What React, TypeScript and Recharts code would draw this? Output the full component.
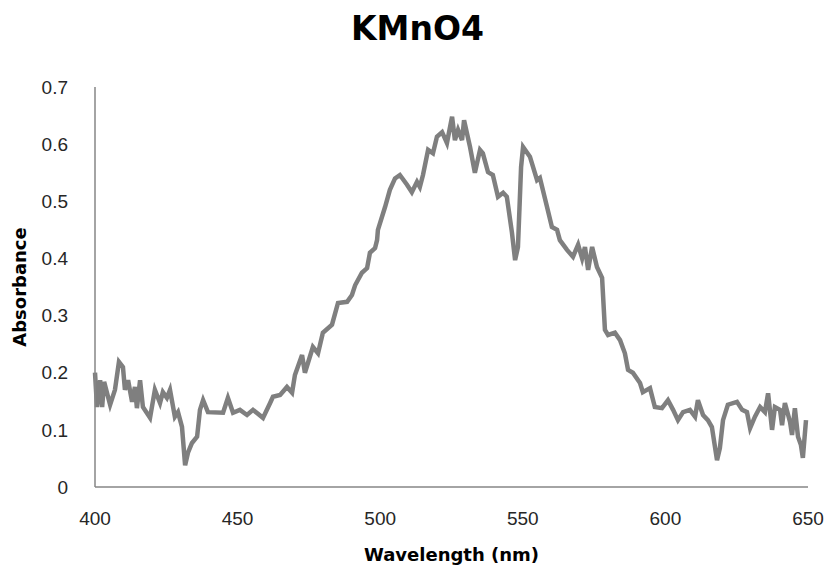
import { LineChart, Line, XAxis, YAxis, Label } from 'recharts';

const wavelengths = [
  400.0, 400.7, 401.8, 402.5, 403.2, 405.3, 407.0, 408.4, 409.8, 410.5, 411.6, 413.0, 414.0, 414.7, 415.8,
  416.8, 419.3, 421.0, 422.8, 423.8, 425.2, 426.3, 428.0, 429.1, 430.5, 431.6, 432.6, 434.0, 435.8, 436.8,
  437.9, 439.6, 444.9, 446.6, 448.4, 450.8, 453.3, 455.4, 458.9, 461.4, 462.4, 464.9, 467.3, 469.1, 470.1,
  472.6, 473.6, 476.4, 478.2, 479.9, 483.1, 485.2, 488.4, 490.1, 491.2, 493.6, 495.4, 496.4, 498.2, 498.9,
  499.2, 501.7, 503.4, 505.2, 506.9, 509.4, 511.1, 512.9, 513.9, 515.0, 516.8, 518.5, 519.9, 521.7, 523.4,
  525.2, 526.2, 527.3, 528.7, 529.4, 531.5, 533.2, 535.0, 536.0, 537.8, 539.5, 541.3, 543.1, 544.4, 546.2,
  547.3, 548.3, 549.4, 550.1, 552.5, 555.0, 556.0, 558.5, 560.2, 562.0, 563.0, 565.5, 567.6, 569.4, 570.8,
  571.8, 572.9, 574.3, 576.0, 577.8, 578.8, 579.9, 582.3, 584.1, 585.8, 586.9, 588.6, 591.1, 592.1, 594.6,
  596.3, 598.8, 600.9, 602.7, 604.4, 606.2, 608.6, 610.4, 611.4, 613.2, 614.9, 616.3, 618.1, 619.1, 620.2,
  621.9, 625.1, 626.9, 628.6, 629.7, 631.4, 633.2, 634.9, 636.0, 637.4, 638.4, 640.2, 640.9, 641.9, 643.7,
  644.4, 645.4, 646.5, 647.5, 648.2, 649.3,
];

const absorbance = [
  0.2, 0.14, 0.187, 0.14, 0.184, 0.144, 0.17, 0.219, 0.21, 0.17, 0.187, 0.149, 0.175, 0.138, 0.187,
  0.14, 0.121, 0.17, 0.147, 0.166, 0.156, 0.17, 0.123, 0.131, 0.105, 0.038, 0.06, 0.077, 0.088, 0.135,
  0.152, 0.131, 0.13, 0.156, 0.13, 0.135, 0.126, 0.135, 0.121, 0.147, 0.158, 0.161, 0.175, 0.165, 0.196,
  0.231, 0.2, 0.245, 0.234, 0.27, 0.284, 0.322, 0.324, 0.336, 0.353, 0.375, 0.383, 0.41, 0.418, 0.432,
  0.45, 0.49, 0.52, 0.54, 0.546, 0.529, 0.516, 0.534, 0.525, 0.546, 0.59, 0.584, 0.613, 0.621, 0.602,
  0.648, 0.607, 0.625, 0.607, 0.642, 0.595, 0.55, 0.59, 0.584, 0.551, 0.546, 0.508, 0.515, 0.508, 0.445,
  0.397, 0.42, 0.56, 0.595, 0.578, 0.537, 0.541, 0.49, 0.455, 0.45, 0.432, 0.415, 0.403, 0.424, 0.4,
  0.42, 0.38, 0.42, 0.385, 0.366, 0.275, 0.266, 0.27, 0.257, 0.234, 0.205, 0.2, 0.182, 0.166, 0.173,
  0.14, 0.138, 0.152, 0.135, 0.117, 0.131, 0.135, 0.123, 0.152, 0.126, 0.117, 0.105, 0.047, 0.068, 0.117,
  0.144, 0.149, 0.135, 0.131, 0.103, 0.123, 0.14, 0.131, 0.164, 0.1, 0.14, 0.135, 0.108, 0.147, 0.114,
  0.091, 0.138, 0.088, 0.074, 0.051, 0.117,
];

const xTicks = [400, 450, 500, 550, 600, 650];
const yTicks = [0, 0.1, 0.2, 0.3, 0.4, 0.5, 0.6, 0.7];

const data = wavelengths.map((w, i) => ({ wavelength: w, absorbance: absorbance[i] }));

const tickFont = '"Liberation Sans", Arial, sans-serif';
const titleFont = '"DejaVu Sans", Verdana, sans-serif';

export default function App() {
  return (
    <div style={{ position: 'absolute', left: 0, top: 0, width: 835, height: 567, background: '#fff' }}>
      <div
        style={{
          position: 'absolute',
          top: 12,
          left: 0,
          width: 835,
          textAlign: 'center',
          fontFamily: titleFont,
          fontSize: 33,
          lineHeight: '33px',
          fontWeight: 'bold',
          color: '#000',
        }}
      >
        KMnO4
      </div>
      <LineChart width={835} height={567} data={data} margin={{ top: 87, right: 27, bottom: 0, left: 25 }}>
        <XAxis
          dataKey="wavelength"
          type="number"
          domain={[400, 650]}
          ticks={xTicks}
          tickLine={false}
          tickSize={20}
          tickMargin={5}
          axisLine={{ stroke: '#868686', strokeWidth: 1.5 }}
          tick={{ fill: '#262626', fontSize: 19, fontFamily: tickFont }}
          height={80}
        >
          <Label
            value="Wavelength (nm)"
            position="insideBottom"
            offset={6}
            style={{ fill: '#000', fontSize: 18, fontWeight: 'bold', fontFamily: titleFont }}
          />
        </XAxis>
        <YAxis
          type="number"
          domain={[0, 0.7]}
          ticks={yTicks}
          tickFormatter={(v: number) => (v === 0 ? '0' : v.toFixed(1))}
          tickLine={false}
          tickSize={20}
          tickMargin={7}
          axisLine={{ stroke: '#868686', strokeWidth: 1.5 }}
          tick={{ fill: '#262626', fontSize: 19, fontFamily: tickFont }}
          width={70}
        >
          <Label
            value="Absorbance"
            angle={-90}
            position="left"
            offset={5}
            style={{ fill: '#000', fontSize: 18, fontWeight: 'bold', fontFamily: titleFont, textAnchor: 'middle' }}
          />
        </YAxis>
        <Line
          type="linear"
          dataKey="absorbance"
          stroke="#7f7f7f"
          strokeWidth={4.5}
          dot={false}
          isAnimationActive={false}
        />
      </LineChart>
    </div>
  );
}
